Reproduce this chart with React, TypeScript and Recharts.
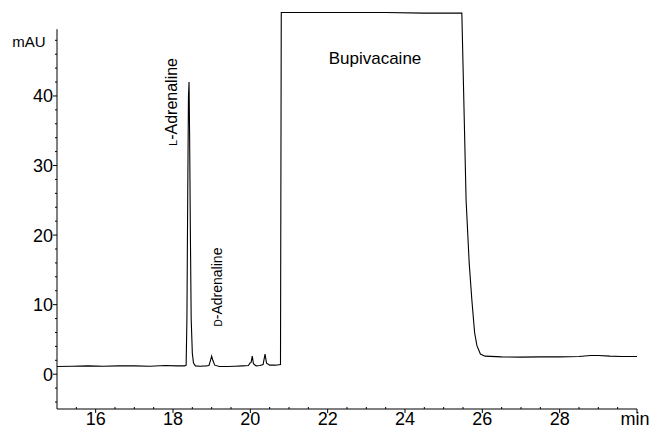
import { LineChart, Line, XAxis, YAxis, ReferenceLine } from "recharts";

// retention time (min) and detector signal (mAU)
const times = [
  15.0, 15.4, 15.8, 16.2, 16.6, 17.0, 17.4, 17.8, 18.1, 18.3, 18.34, 18.36, 18.38, 18.4, 18.415, 18.43, 18.45, 18.47,
  18.5, 18.53, 18.58, 18.7, 18.85, 18.93, 18.97, 19.0, 19.03, 19.08, 19.2, 19.4, 19.6, 19.8, 19.95, 19.99, 20.02,
  20.05, 20.08, 20.15, 20.25, 20.33, 20.38, 20.42, 20.5, 20.65, 20.78, 20.8, 21.5, 22.5, 23.5, 24.5, 25.47, 25.58,
  25.66, 25.73, 25.8, 25.86, 25.95, 26.07, 26.5, 27.0, 27.5, 28.0, 28.5, 28.8, 29.0, 29.3, 29.6, 30.0,
];
const mAU = [
  1.1, 1.15, 1.2, 1.15, 1.2, 1.2, 1.15, 1.25, 1.2, 1.2, 1.3, 8, 25, 40, 42.0, 34, 20, 8,
  3, 1.6, 1.2, 1.15, 1.2, 1.25, 2.0, 2.6, 2.0, 1.3, 1.1, 1.1, 1.15, 1.2, 1.25, 1.6, 1.7,
  2.6, 1.5, 1.2, 1.25, 1.4, 2.9, 1.6, 1.3, 1.3, 1.4, 52.0, 52.0, 52.0, 52.0, 51.9, 51.9, 25,
  16, 10.6, 6, 4.1, 2.9, 2.6, 2.5, 2.45, 2.5, 2.5, 2.55, 2.7, 2.7, 2.6, 2.55, 2.55,
];

const xTicks = [
  15.5, 16, 16.5, 17, 17.5, 18, 18.5, 19, 19.5, 20, 20.5, 21, 21.5, 22, 22.5, 23, 23.5, 24, 24.5, 25, 25.5, 26,
  26.5, 27, 27.5, 28, 28.5, 29, 29.5, 30,
];
const xLabels = [16, 18, 20, 22, 24, 26, 28];
const yTicks = [-4, -2, 0, 2, 4, 6, 8, 10, 12, 14, 16, 18, 20, 22, 24, 26, 28, 30, 32, 34, 36, 38, 40, 42, 44, 46, 48];
const yLabels = [0, 10, 20, 30, 40];

const data = times.map((t, i) => ({ t, v: mAU[i] }));

const FONT = "'Liberation Sans', Arial, Helvetica, sans-serif";

function XTick({ x, y, payload }: any) {
  const v = payload.value;
  const major = xLabels.includes(v);
  const end = v === 30;
  return (
    <g>
      <line x1={x} x2={x} y1={y} y2={major || end ? y + 4 : y - 2} stroke="#000" />
      {major && (
        <text x={x} y={y + 16} textAnchor="middle" fontSize={18} fill="#000" fontFamily={FONT}>
          {v}
        </text>
      )}
      {end && (
        <text x={x - 2} y={y + 16} textAnchor="middle" fontSize={18} fill="#000" fontFamily={FONT}>
          min
        </text>
      )}
    </g>
  );
}

function YTick({ x, y, payload }: any) {
  const major = yLabels.includes(payload.value);
  return (
    <g>
      <line x1={x} x2={x - (major ? 4 : 2)} y1={y} y2={y} stroke="#000" />
      {major && (
        <text x={x - 4} y={y + 6.5} textAnchor="end" fontSize={18} fill="#000" fontFamily={FONT}>
          {payload.value}
        </text>
      )}
    </g>
  );
}

export default function App() {
  return (
    <div style={{ position: "absolute", left: 0, top: 0, width: 652, height: 429, background: "#fff" }}>
      <LineChart width={652} height={429} data={data} margin={{ top: 9, right: 15, bottom: 0, left: 0 }}>
        <XAxis
          dataKey="t"
          type="number"
          domain={[15, 30]}
          ticks={xTicks}
          interval={0}
          height={20}
          tickSize={0}
          tickMargin={0}
          tickLine={false}
          axisLine={{ stroke: "#000" }}
          tick={(p: any) => <XTick {...p} />}
        />
        <YAxis
          type="number"
          domain={[-5, 52.5]}
          ticks={yTicks}
          interval={0}
          width={57}
          tickSize={0}
          tickMargin={0}
          tickLine={false}
          axisLine={false}
          tick={(p: any) => <YTick {...p} />}
        />
        <ReferenceLine
          segment={[
            { x: 15, y: -5 },
            { x: 15, y: 49.6 },
          ]}
          stroke="#000"
        />
        <Line
          type="linear"
          dataKey="v"
          stroke="#000"
          strokeWidth={1.1}
          dot={false}
          isAnimationActive={false}
        />
        <text x={29} y={47} textAnchor="middle" fontSize={15} fill="#000" fontFamily={FONT}>
          mAU
        </text>
        <text x={375} y={64} textAnchor="middle" fontSize={17} fill="#000" fontFamily={FONT}>
          Bupivacaine
        </text>
        <text
          transform="translate(177,102) rotate(-90)"
          textAnchor="middle"
          fontSize={16}
          fill="#000"
          fontFamily={FONT}
        >
          <tspan fontSize={11}>L</tspan>-Adrenaline
        </text>
        <text
          transform="translate(221.5,287) rotate(-90)"
          textAnchor="middle"
          fontSize={14}
          fill="#000"
          fontFamily={FONT}
        >
          <tspan fontSize={10}>D</tspan>-Adrenaline
        </text>
      </LineChart>
    </div>
  );
}
